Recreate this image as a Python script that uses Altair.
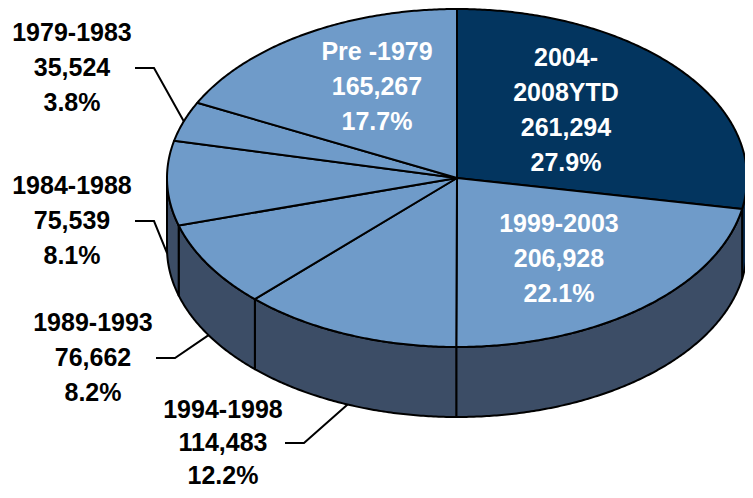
import math
import altair as alt
import pandas as pd

# ---------------- data ----------------
categories = ["2004-2008YTD", "1999-2003", "1994-1998", "1989-1993",
              "1984-1988", "1979-1983", "Pre -1979"]
values = [261294, 206928, 114483, 76662, 75539, 35524, 165267]
percents = [27.9, 22.1, 12.2, 8.2, 8.1, 3.8, 17.7]
label_name_lines = [["2004-", "2008YTD"], ["1999-2003"], ["1994-1998"], ["1989-1993"],
                    ["1984-1988"], ["1979-1983"], ["Pre -1979"]]

# ---------------- layout / style ----------------
W, H = 737, 482
X0, Y0 = 8, 8
CX, CY, RX, RY, DEPTH = 457, 178, 290, 169, 70
LIGHT = "#6f9bc9"
DARK = "#03355f"
SIDE = "#3c4d66"
SIDE_DARK = "#0a2c50"
top_colors = [DARK, LIGHT, LIGHT, LIGHT, LIGHT, LIGHT, LIGHT]
side_colors = [SIDE_DARK, SIDE, SIDE, SIDE, SIDE, SIDE, SIDE]
FONT = "Liberation Sans"
FS = 25
# label anchor: (center x, first line centre y, line spacing, text colour, elbow point or None)
label_layout = [
    (566, 58, 35, "white", None),
    (559, 224, 35, "white", None),
    (223, 410, 33, "black", (304, 443)),
    (93, 323, 35, "black", (175, 358)),
    (72, 186, 35, "black", (154, 221)),
    (72, 33, 35, "black", (154, 68)),
    (377, 52, 35, "white", None),
]


def ell(t, dy=0.0):
    return CX + RX * math.sin(t), CY - RY * math.cos(t) + dy


total = float(sum(values))
bounds = []
c = 0.0
for v in values:
    t0 = 2 * math.pi * c / total
    c += v
    t1 = 2 * math.pi * c / total
    bounds.append((t0, t1))


def arc(a, b, dy=0.0):
    n = max(2, int(abs(math.degrees(b - a)) * 2))
    return [ell(a + (b - a) * k / n, dy) for k in range(n + 1)]


top_rows, side_rows = [], []
for i, (t0, t1) in enumerate(bounds):
    pts = [(CX, CY)] + arc(t0, t1) + [(CX, CY)]
    for k, (x, y) in enumerate(pts):
        top_rows.append({"poly": f"t{i}", "i": k, "x": x, "y": y, "fill": top_colors[i]})
    a, b = max(t0, math.pi / 2), min(t1, 3 * math.pi / 2)
    if a < b:
        spts = arc(a, b) + arc(b, a, DEPTH)
        spts.append(spts[0])
        for k, (x, y) in enumerate(spts):
            side_rows.append({"poly": f"s{i}", "i": k, "x": x, "y": y, "fill": side_colors[i]})

text_rows, leader_rows = [], []
for i, cat in enumerate(categories):
    lx, ly, sp, col, elbow = label_layout[i]
    lines = label_name_lines[i] + [f"{values[i]:,}", f"{percents[i]:.1f}%"]
    for k, s in enumerate(lines):
        text_rows.append({"x": lx, "y": ly + k * sp, "t": s, "c": col})
    if elbow is not None:
        t0, t1 = bounds[i]
        mid = (t0 + t1) / 2
        front = math.pi / 2 <= mid <= 3 * math.pi / 2
        ex, ey = ell(mid, DEPTH if front else 0)
        for k, (x, y) in enumerate([(elbow[0] - 19, elbow[1]), elbow, (ex, ey)]):
            leader_rows.append({"g": cat, "i": k, "x": x, "y": y})

X = alt.X("x:Q", scale=alt.Scale(domain=[X0, X0 + W], nice=False, zero=False), axis=None)
Y = alt.Y("y:Q", scale=alt.Scale(domain=[Y0, Y0 + H], nice=False, zero=False, reverse=True), axis=None)

sides = alt.Chart(pd.DataFrame(side_rows)).mark_line(
    stroke="black", strokeWidth=2, strokeJoin="round"
).encode(x=X, y=Y, detail="poly:N", order="i:Q",
         fill=alt.Fill("fill:N", scale=None))

tops = alt.Chart(pd.DataFrame(top_rows)).mark_line(
    stroke="black", strokeWidth=2, strokeJoin="round"
).encode(x=X, y=Y, detail="poly:N", order="i:Q",
         fill=alt.Fill("fill:N", scale=None))

leaders = alt.Chart(pd.DataFrame(leader_rows)).mark_line(
    color="black", strokeWidth=2
).encode(x=X, y=Y, detail="g:N", order="i:Q")

texts = alt.Chart(pd.DataFrame(text_rows)).mark_text(
    font=FONT, fontWeight="bold", fontSize=FS, align="center", baseline="middle"
).encode(x=X, y=Y, text="t:N", color=alt.Color("c:N", scale=None))

chart = alt.layer(sides, tops, leaders, texts).properties(
    width=W, height=H, padding=0, autosize=alt.AutoSizeParams(type="none")
).configure_view(stroke=None)

chart.save("out.html", embed_options={"renderer": "svg", "actions": False})
